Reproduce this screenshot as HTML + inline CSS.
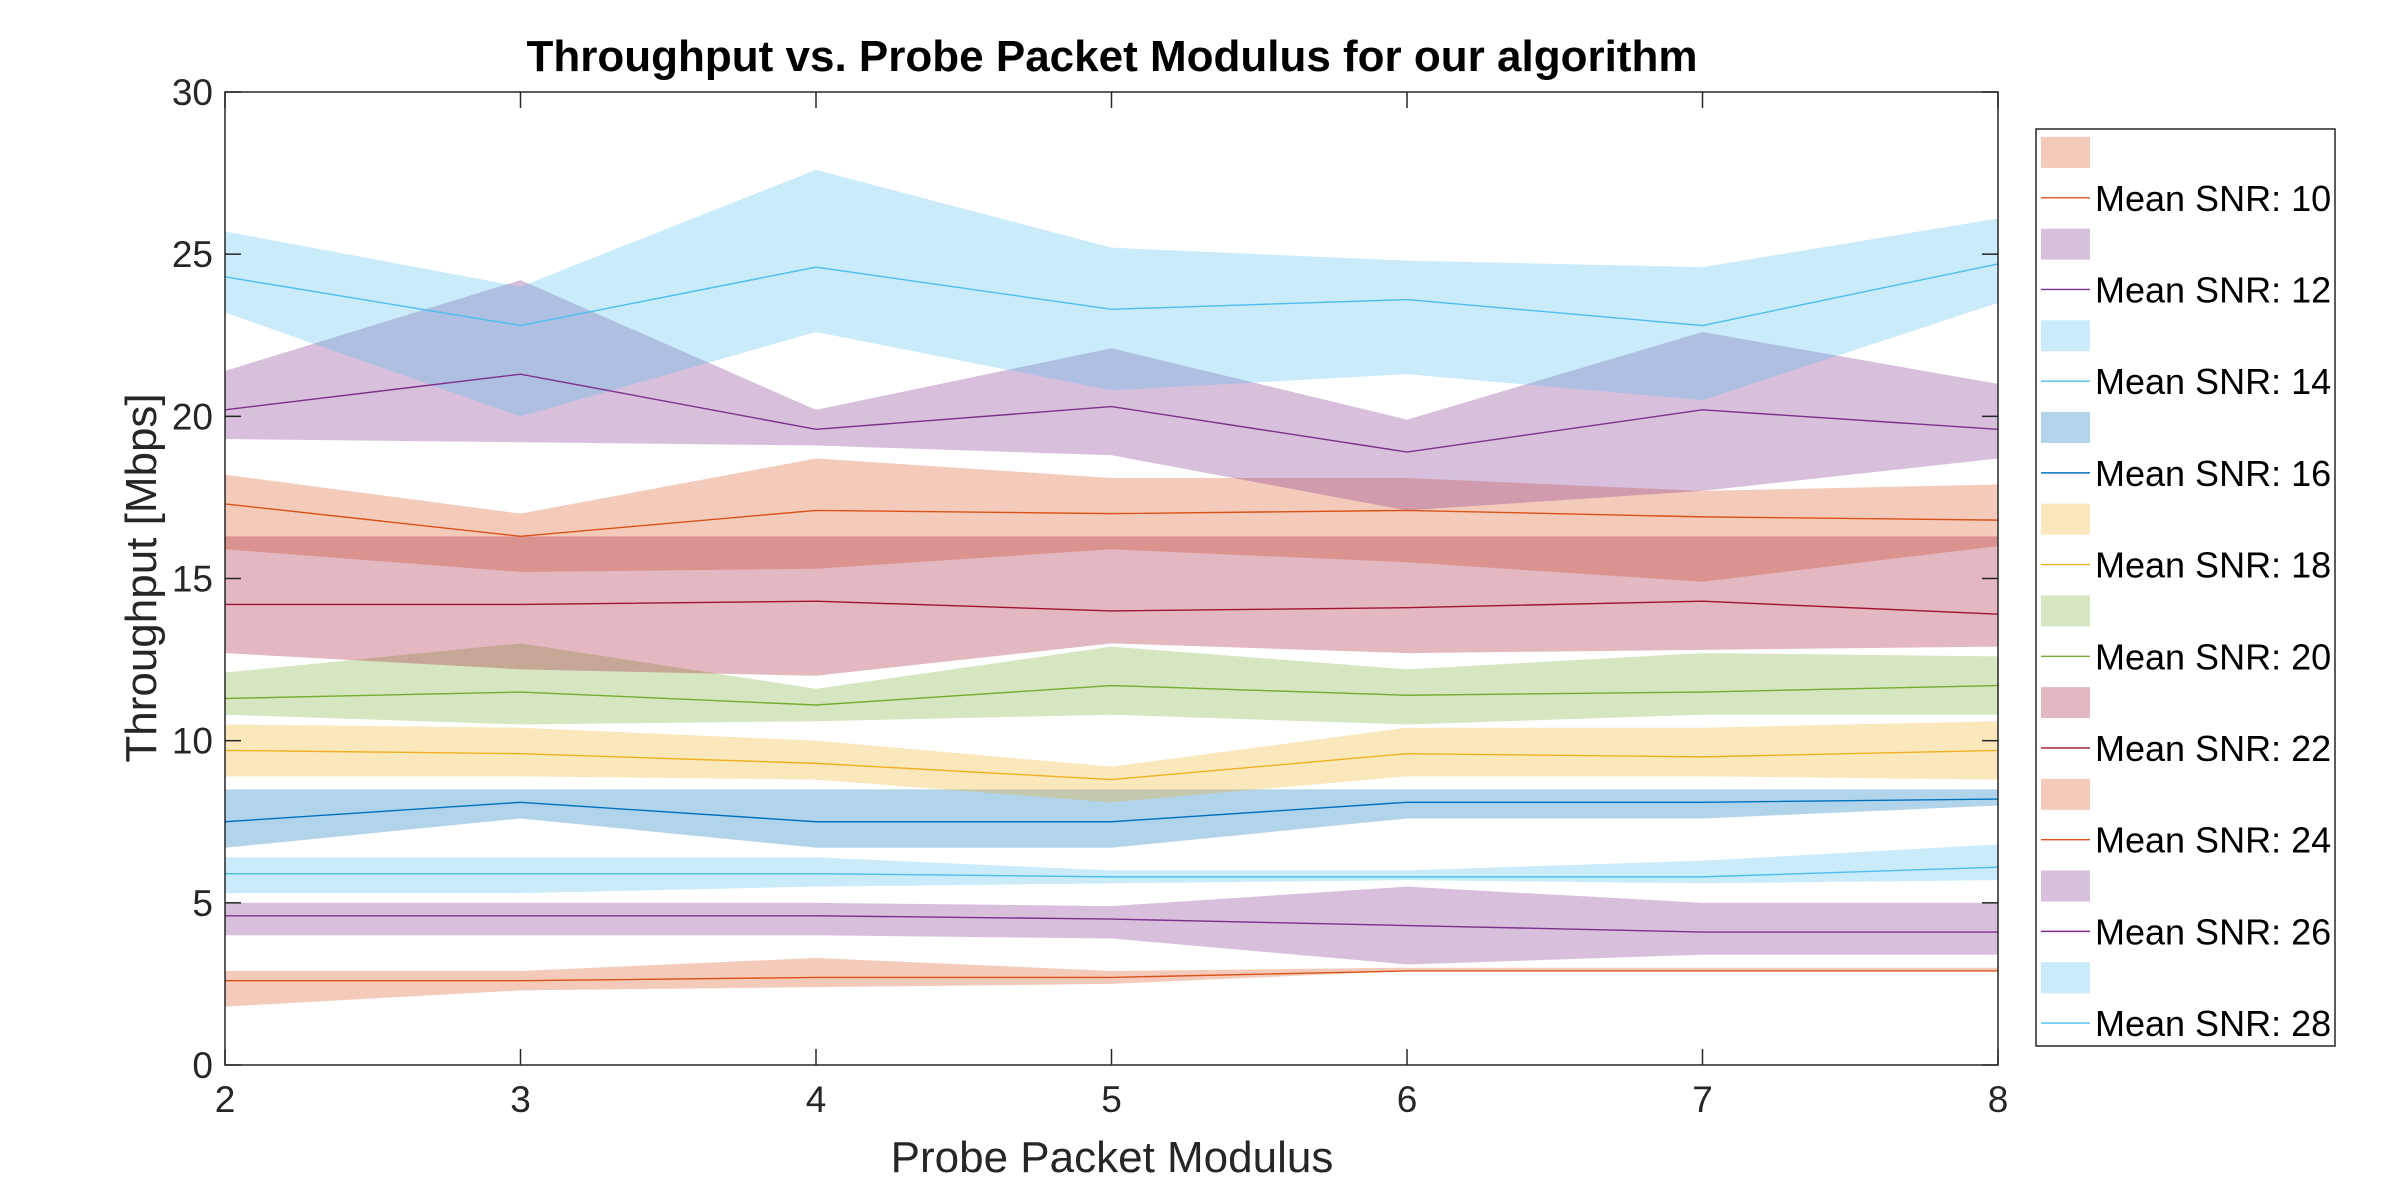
<!DOCTYPE html>
<html><head><meta charset="utf-8"><style>
body{margin:0;background:#fff;}
svg{display:block;font-family:"Liberation Sans",Arial,sans-serif;}
</style></head><body>
<svg id="chart" width="2400" height="1196" viewBox="0 0 2400 1196" xmlns="http://www.w3.org/2000/svg">
<rect width="2400" height="1196" fill="#fff"/>
<text x="1112" y="71" font-size="44" font-weight="bold" text-anchor="middle">Throughput vs. Probe Packet Modulus for our algorithm</text>
<g id="bands"></g><g id="lines"></g><g id="axes"></g><g id="legend"></g>
<text x="1112" y="1172" font-size="44" text-anchor="middle" fill="#262626">Probe Packet Modulus</text>
<text transform="translate(156,578) rotate(-90)" font-size="44" text-anchor="middle" fill="#262626">Throughput [Mbps]</text>
</svg>
<script>
const xs=[2,3,4,5,6,7,8];
const xTicks=[2,3,4,5,6,7,8];
const yTicks=[0,5,10,15,20,25,30];
const seriesNames=["Mean SNR: 10","Mean SNR: 12","Mean SNR: 14","Mean SNR: 16","Mean SNR: 18","Mean SNR: 20","Mean SNR: 22","Mean SNR: 24","Mean SNR: 26","Mean SNR: 28"];
const colors=["#D95319","#7E2F8E","#4DBEEE","#0072BD","#EDB120","#77AC30","#A2142F","#D95319","#7E2F8E","#4DBEEE"];
const mean10=[17.3,16.3,17.1,17.0,17.1,16.9,16.8],up10=[18.2,17.0,18.7,18.1,18.1,17.7,17.9],lo10=[15.9,15.2,15.3,15.9,15.5,14.9,16.0];
const mean12=[20.2,21.3,19.6,20.3,18.9,20.2,19.6],up12=[21.4,24.2,20.2,22.1,19.9,22.6,21.0],lo12=[19.3,19.2,19.1,18.8,17.1,17.7,18.7];
const mean14=[24.3,22.8,24.6,23.3,23.6,22.8,24.7],up14=[25.7,24.0,27.6,25.2,24.8,24.6,26.1],lo14=[23.2,20.0,22.6,20.8,21.3,20.5,23.5];
const mean16=[7.5,8.1,7.5,7.5,8.1,8.1,8.2],up16=[8.5,8.5,8.5,8.5,8.5,8.5,8.5],lo16=[6.7,7.6,6.7,6.7,7.6,7.6,8.0];
const mean18=[9.7,9.6,9.3,8.8,9.6,9.5,9.7],up18=[10.5,10.4,10.0,9.2,10.4,10.4,10.6],lo18=[8.9,8.9,8.8,8.1,8.9,8.9,8.8];
const mean20=[11.3,11.5,11.1,11.7,11.4,11.5,11.7],up20=[12.1,13.0,11.6,12.9,12.2,12.7,12.6],lo20=[10.8,10.5,10.6,10.8,10.5,10.8,10.8];
const mean22=[14.2,14.2,14.3,14.0,14.1,14.3,13.9],up22=[16.3,16.3,16.3,16.3,16.3,16.3,16.3],lo22=[12.7,12.2,12.0,13.0,12.7,12.8,12.9];
const mean24=[2.6,2.6,2.7,2.7,2.9,2.9,2.9],up24=[2.9,2.9,3.3,2.9,3.0,3.0,3.0],lo24=[1.8,2.3,2.4,2.5,2.9,2.9,2.9];
const mean26=[4.6,4.6,4.6,4.5,4.3,4.1,4.1],up26=[5.0,5.0,5.0,4.9,5.5,5.0,5.0],lo26=[4.0,4.0,4.0,3.9,3.1,3.4,3.4];
const mean28=[5.9,5.9,5.9,5.8,5.8,5.8,6.1],up28=[6.4,6.4,6.4,6.0,6.0,6.3,6.8],lo28=[5.3,5.3,5.5,5.6,5.7,5.6,5.7];
const means=[mean10,mean12,mean14,mean16,mean18,mean20,mean22,mean24,mean26,mean28];
const ups=[up10,up12,up14,up16,up18,up20,up22,up24,up26,up28];
const los=[lo10,lo12,lo14,lo16,lo18,lo20,lo22,lo24,lo26,lo28];
const L=225,R=1998,T=92,B=1065;
const sx=v=>L+(v-2)/6*(R-L), sy=v=>B-v/30*(B-T);
const NS="http://www.w3.org/2000/svg";
function mk(t,a,p){const e=document.createElementNS(NS,t);for(const k in a)e.setAttribute(k,a[k]);p.appendChild(e);return e;}
const gB=document.getElementById('bands'),gL=document.getElementById('lines'),gA=document.getElementById('axes'),gG=document.getElementById('legend');
means.forEach((m,i)=>{
  const pts=xs.map((x,j)=>sx(x)+','+sy(ups[i][j])).concat(xs.map((x,j)=>sx(x)+','+sy(los[i][j])).reverse()).join(' ');
  const b=mk('polygon',{points:pts,fill:colors[i],'fill-opacity':0.3,stroke:'none'},gB);
  
  
  const l=mk('polyline',{points:xs.map((x,j)=>sx(x)+','+sy(m[j])).join(' '),fill:'none',stroke:colors[i],'stroke-width':1.4},gL);
  
  
});
const box=mk('rect',{x:L,y:T,width:R-L,height:B-T,fill:'none',stroke:'#262626','stroke-width':1.5},gA);


xTicks.forEach(v=>{
  const x=sx(v);
  mk('line',{x1:x,y1:B,x2:x,y2:B-16,stroke:'#262626','stroke-width':1.5},gA);
  mk('line',{x1:x,y1:T,x2:x,y2:T+16,stroke:'#262626','stroke-width':1.5},gA);
  const t=mk('text',{x:x,y:B+47,'font-size':37,'text-anchor':'middle',fill:'#262626'},gA);t.textContent=v;
  
  
});
yTicks.forEach(v=>{
  const y=sy(v);
  mk('line',{x1:L,y1:y,x2:L+16,y2:y,stroke:'#262626','stroke-width':1.5},gA);
  mk('line',{x1:R,y1:y,x2:R-16,y2:y,stroke:'#262626','stroke-width':1.5},gA);
  const t=mk('text',{x:L-12,y:y+13,'font-size':37,'text-anchor':'end',fill:'#262626'},gA);t.textContent=v;
  
  
});
const LT=129,LB=1046;
const lb=mk('rect',{x:2036,y:LT,width:299,height:LB-LT,fill:'#fff',stroke:'#262626','stroke-width':1.5},gG);


const step=(LB-LT)/20;
seriesNames.forEach((n,i)=>{
  const yp=LT+step*(2*i)+step/2, yl=LT+step*(2*i+1)+step/2;
  const p=mk('rect',{x:2041,y:yp-15,width:49,height:31,fill:colors[i],'fill-opacity':0.3},gG);
  
  
  const ln=mk('line',{x1:2041,y1:yl,x2:2090,y2:yl,stroke:colors[i],'stroke-width':1.4},gG);
  
  
  const t=mk('text',{x:2095,y:yl+13,'font-size':36,fill:'#000'},gG);t.textContent=n;
  
  
});
</script>
</body></html>
